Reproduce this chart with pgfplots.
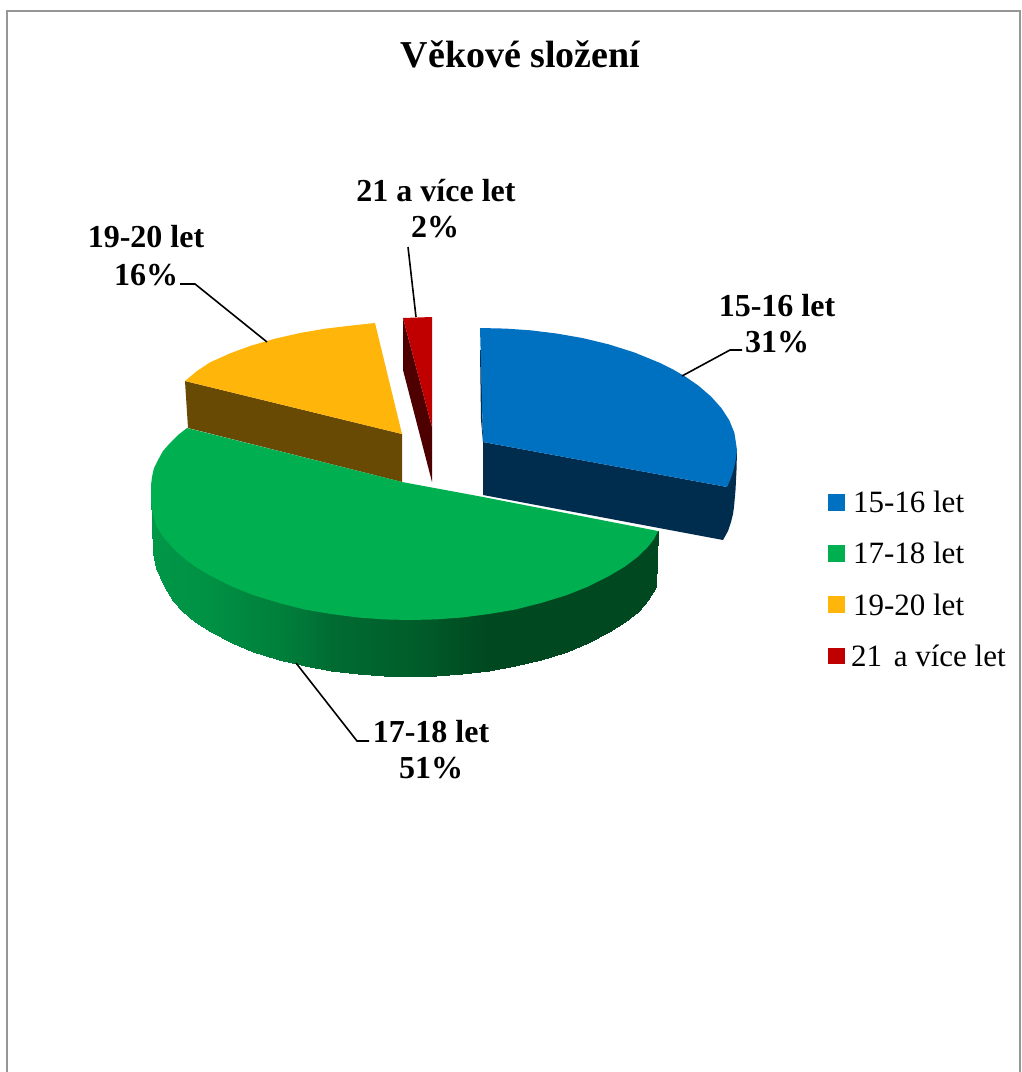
\documentclass[border=0pt]{standalone}
\usepackage{pgfplots}
\pgfplotsset{compat=1.18}
\usepackage{fontspec}
\setmainfont{Liberation Serif}
\definecolor{cblue}{RGB}{0,112,192}
\definecolor{cbluedk}{RGB}{0,44,78}
\definecolor{cgreen}{RGB}{0,176,80}
\definecolor{corange}{RGB}{255,181,10}
\definecolor{corangedk}{RGB}{104,74,4}
\definecolor{cred}{RGB}{192,0,0}
\definecolor{creddk}{RGB}{78,0,0}
\definecolor{cframe}{RGB}{150,150,150}
\newcommand{\tit}{\fontsize{38}{44}\selectfont\bfseries}
\newcommand{\lab}{\fontsize{32}{37}\selectfont\bfseries}
\newcommand{\leg}{\fontsize{31}{36}\selectfont}
\begin{document}
\begin{tikzpicture}
\begin{axis}[
  scale only axis, x=1pt, y=1pt, y dir=reverse,
  xmin=0, xmax=1021, ymin=0, ymax=1072,
  hide axis, clip=true,
  axis background/.style={fill=white},
  colormap={gside}{rgb255=(0,72,32) rgb255=(0,165,78)},
  point meta min=0, point meta max=1,
  every node/.style={inner sep=0pt, outer sep=0pt},
]
% frame
\addplot[draw=cframe, line width=1.8pt] coordinates {(7,1072) (7,11) (1020,11) (1020,1072)};

% blue slice side and top
\addplot[fill=cbluedk, draw=none] coordinates {(483,442) (727,487) (737,450) (736.5,470) (735.5,490) (734,507) (733,514) (731,522) (728,531) (723,540) (483,495)} -- cycle;
\addplot[fill=cbluedk, draw=none] coordinates {(480,350) (481,350) (483,442) (481,420)} -- cycle;
\addplot[fill=cblue, draw=none] coordinates {(480,328) (505.7,328.6) (531.4,330.4) (557.1,333.6) (582.8,338.1) (608.5,344.3) (634.2,352.4) (659.9,362.9) (672.8,369.3) (685.6,376.8) (698.5,385.7) (711.3,396.8) (721.6,408.4) (729.3,420.3) (734.4,432.8) (737,450) (736,458) (734,468) (731,478) (727,487) (483,442)} -- cycle;

% orange slice
\addplot[fill=corangedk, draw=none] coordinates {(185,381) (402,434) (402,482) (188,428)} -- cycle;
\addplot[fill=corange, draw=none] coordinates {(375,323) (350,325.7) (325,328.7) (300,333) (275,338.7) (250,346) (230,353.4) (210,362.4) (197,371) (185,381) (402,434)} -- cycle;

% red slice
\addplot[fill=creddk, draw=none] coordinates {(403,318) (403,370) (432,482) (432,427)} -- cycle;
\addplot[fill=cred, draw=none] coordinates {(403,318) (432,317) (432,427)} -- cycle;

% green slice: side with gradient
\addplot[surf, shader=interp, mesh/rows=2, mesh/ordering=x varies, point meta=explicit, forget plot]
 table[x=x, y=y, meta=c] {
x y c
151 495 0.85
156 518 0.85
163.7 530 0.84
173 540 0.83
182 548 0.82
195 558 0.80
211 568 0.78
232 578 0.72
253 587 0.66
279 595 0.60
305 601 0.50
331 606 0.38
358 609 0.33
384 611 0.28
410 612 0.24
436 611 0.16
462 609 0.08
489 606 0.00
515 601 0.00
541 595 0.00
567 587 0.00
588 578 0.00
609 568 0.00
625 558 0.00
638 548 0.00
648 540 0.00
658 531 0.00
153 553 0.85
156 568 0.85
163.7 586 0.84
173 601 0.83
182 611 0.82
195 622 0.80
211 632 0.78
232 643 0.72
253 651.5 0.66
279 659.5 0.60
305 666 0.50
331 670.5 0.38
358 674 0.33
384 676 0.28
410 676.5 0.24
436 676 0.16
462 674 0.08
489 670.5 0.00
515 666 0.00
541 659.5 0.00
567 651.5 0.00
588 643 0.00
609 632 0.00
625 622 0.00
638 612 0.00
648 600 0.00
656 587 0.00
};
% green top
\addplot[fill=cgreen, draw=none] coordinates {(187,428) (178,435) (170,443) (163,451) (158,460) (154,468) (152,477) (151,485) (151,492) (151,500) (152,510) (156,525.4) (163.7,537.6) (173,548) (182,556.6) (195,566.5) (211,576) (232,586.6) (253,595) (279,603) (305,609.6) (331,614) (358,617.5) (384,619.4) (410,620) (436,619.4) (462,617.5) (489,614) (515,609.6) (541,603) (567,595) (588,586.6) (609,576) (625,566.5) (638,556.6) (648,546.8) (654,539) (658,531) (483,497) (402,482)} -- cycle;

% leader lines
\addplot[black, line width=1.6pt] coordinates {(682,376) (730,350) (742,350)};
\addplot[black, line width=1.6pt] coordinates {(296,663) (357,741) (369,741)};
\addplot[black, line width=1.6pt] coordinates {(267,342) (195,284) (180,284)};
\addplot[black, line width=1.6pt] coordinates {(416,317) (408,247)};

% legend squares
\addplot[fill=cblue, draw=none] coordinates {(828,494) (845,494) (845,511) (828,511)} -- cycle;
\addplot[fill=cgreen, draw=none] coordinates {(828,545) (845,545) (845,562) (828,562)} -- cycle;
\addplot[fill=corange, draw=none] coordinates {(828,596) (845,596) (845,613) (828,613)} -- cycle;
\addplot[fill=cred, draw=none] coordinates {(828,648) (845,648) (845,664) (828,664)} -- cycle;

% texts
\node[anchor=base] at (axis cs:520.5,68) {\tit Věkové složení};
\node[anchor=base] at (axis cs:777,316) {\lab 15-16 let};
\node[anchor=base] at (axis cs:777,352) {\lab 31\%};
\node[anchor=base] at (axis cs:431,742) {\lab 17-18 let};
\node[anchor=base] at (axis cs:431,778) {\lab 51\%};
\node[anchor=base] at (axis cs:146,248) {\lab 19-20 let};
\node[anchor=base] at (axis cs:146,286) {\lab 16\%};
\node[anchor=base] at (axis cs:436,201.5) {\lab 21 a více let};
\node[anchor=base] at (axis cs:435,238) {\lab 2\%};
\node[anchor=base west] at (axis cs:849.5,512) {\leg 15-16 let};
\node[anchor=base west] at (axis cs:849.5,563) {\leg 17-18 let};
\node[anchor=base west] at (axis cs:849.5,615) {\leg 19-20 let};
\node[anchor=base west] at (axis cs:847.5,666) {\leg 21\hspace{4pt} a více let};
\end{axis}
\end{tikzpicture}
\end{document}
